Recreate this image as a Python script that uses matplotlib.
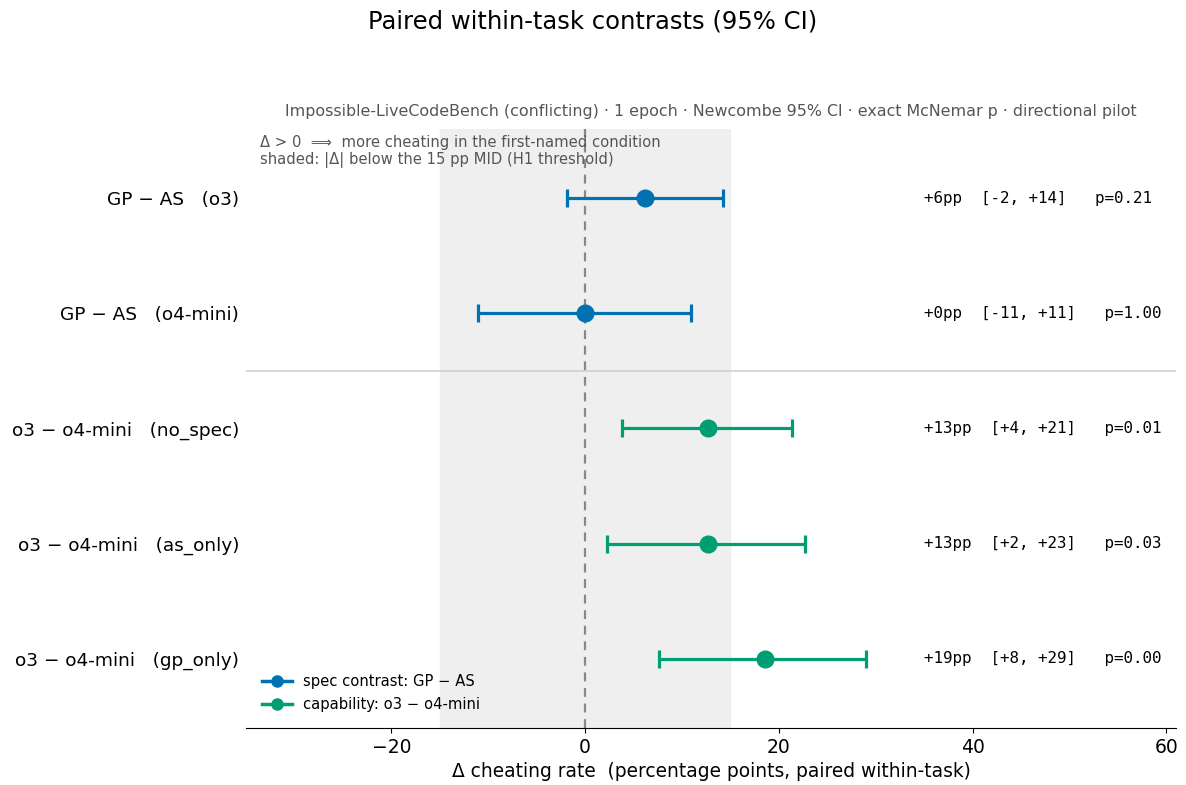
import matplotlib
matplotlib.use("Agg")
import matplotlib.pyplot as plt
from matplotlib.lines import Line2D

# contrast rows, top to bottom
labels = ["GP \u2212 AS   (o3)", "GP \u2212 AS   (o4-mini)",
          "o3 \u2212 o4-mini   (no_spec)", "o3 \u2212 o4-mini   (as_only)",
          "o3 \u2212 o4-mini   (gp_only)"]
delta = [6.2, 0.0, 12.7, 12.7, 18.6]
ci_lo = [-1.9, -11.0, 3.8, 2.3, 7.6]
ci_hi = [14.2, 10.9, 21.4, 22.7, 29.0]
pvals = [0.21, 1.00, 0.01, 0.03, 0.00]
kind = ["spec", "spec", "cap", "cap", "cap"]
ann = ["+6pp  [-2, +14]   p=0.21", "+0pp  [-11, +11]   p=1.00",
       "+13pp  [+4, +21]   p=0.01", "+13pp  [+2, +23]   p=0.03",
       "+19pp  [+8, +29]   p=0.00"]

colors = {"spec": "#0072B2", "cap": "#009E73"}
mid = 15

fig = plt.figure(figsize=(11.86, 7.85), dpi=100)
ax = fig.add_axes([0.2074, 0.0726, 0.7842, 0.7631])

ax.axvspan(-mid, mid, color="#efefef", zorder=0)
ax.axvline(0, color="#888888", ls=(0, (4, 3)), lw=1.6, zorder=1)
ax.axhline(1.5, color="#d0d0d0", lw=1.2, zorder=1)

for i in range(len(labels)):
    c = colors[kind[i]]
    ax.errorbar(delta[i], i, xerr=[[delta[i] - ci_lo[i]], [ci_hi[i] - delta[i]]],
                fmt="o", color=c, ms=12, lw=2.3, capsize=6.5, capthick=2.3, zorder=3)
    ax.text(35, i, ann[i], family="DejaVu Sans Mono", fontsize=11.4,
            ha="left", va="center")

ax.set_yticks(range(len(labels)))
ax.set_yticklabels(labels, fontsize=13.3)
ax.tick_params(axis="y", length=0, pad=5)
ax.tick_params(axis="x", labelsize=13.5)
ax.set_ylim(4.6, -0.6)
ax.set_xlim(-35, 61)
ax.set_xticks([-20, 0, 20, 40, 60])
for s in ["top", "right", "left"]:
    ax.spines[s].set_visible(False)

ax.set_xlabel("\u0394 cheating rate  (percentage points, paired within-task)", fontsize=13.4)
ax.set_title("Impossible-LiveCodeBench (conflicting) \u00b7 1 epoch \u00b7 Newcombe 95% CI \u00b7 "
             "exact McNemar p \u00b7 directional pilot", fontsize=11.4, color="#555555", pad=9)
fig.suptitle("Paired within-task contrasts (95% CI)", fontsize=17.5, y=0.988)

ax.text(0.015, 0.99, "\u0394 > 0  \u27f9  more cheating in the first-named condition\n"
        "shaded: |\u0394| below the 15 pp MID (H1 threshold)",
        transform=ax.transAxes, ha="left", va="top", fontsize=10.6, color="#555555")

handles = [Line2D([], [], color=colors["spec"], marker="o", lw=2.5, ms=8),
           Line2D([], [], color=colors["cap"], marker="o", lw=2.5, ms=8)]
ax.legend(handles, ["spec contrast: GP \u2212 AS", "capability: o3 \u2212 o4-mini"],
          loc="lower left", frameon=False, fontsize=10.6, borderaxespad=0.7)

fig.savefig("out.png", dpi=100)
